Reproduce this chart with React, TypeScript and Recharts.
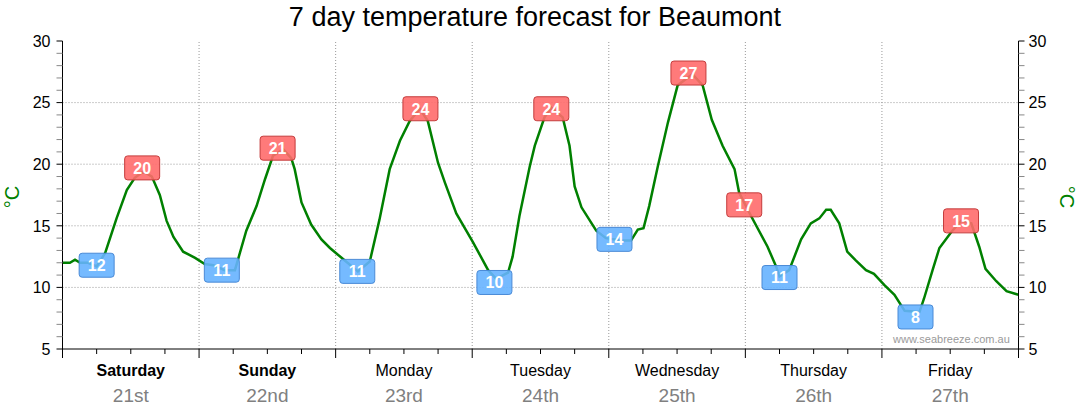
import React from 'react';
import { ComposedChart, Line, Scatter, XAxis, YAxis, ReferenceLine } from 'recharts';

// hours since midnight Saturday, and the forecast temperature at that hour
const hours = [
  0, 1.3, 2.2, 3.1, 4.5, 6, 7.1, 7.5, 9.5, 11.3, 12.7, 14.2, 15.7, 17.1, 18.3, 19.5, 21.2, 23.3,
  25, 26.5, 28.5, 30.3, 30.8, 32.3, 34.1, 35.6, 37, 38.8, 40.2, 40.8, 42, 43.7, 45.5, 47,
  49.3, 51.9, 54, 55.7, 57.5, 59.3, 61, 62.8, 64.2, 66, 67.2, 69.2, 72.1,
  74.8, 76.2, 78.3, 79.1, 80.3, 82.1, 83, 84.7, 85.9, 87.9, 89.1, 90, 91.2, 93.8, 95.5,
  98.2, 99.9, 101.1, 102.1, 103.1, 104.6, 106.4, 108.1, 110.7, 112.5, 114.1, 116, 118.1, 118.9,
  121, 123.9, 125.4, 126, 127.7, 129.8, 131.5, 133, 134.2, 135, 136.5, 137.9, 139.4, 141.2, 142.6,
  144.4, 146.2, 148, 150.6, 151.4, 152.9, 154.1, 156.2, 157.9, 159.7, 161.1, 162.2, 164.1, 165.9, 168,
];
const temps = [
  12.0, 12.0, 12.25, 12.0, 12.0, 11.7, 12.5, 12.8, 15.6, 17.9, 18.9, 19.4, 19.0, 17.5, 15.4, 14.1, 12.9, 12.4,
  11.9, 11.8, 11.4, 11.4, 12.2, 14.6, 16.6, 18.8, 20.7, 21.2, 20.5, 19.6, 16.9, 15.1, 13.9, 13.2,
  12.3, 11.3, 12.1, 15.5, 19.6, 21.9, 23.5, 24.5, 23.5, 20.1, 18.5, 16.0, 13.7,
  11.4, 10.7, 11.2, 12.5, 15.8, 19.8, 21.5, 23.8, 24.6, 23.8, 21.5, 18.2, 16.5, 14.6, 14.0,
  13.8, 13.8, 14.7, 14.8, 16.6, 19.8, 23.4, 26.4, 27.3, 26.4, 23.6, 21.5, 19.6, 17.7,
  15.8, 13.3, 11.7, 10.9, 11.4, 13.9, 15.2, 15.6, 16.3, 16.3, 15.2, 12.9, 12.2, 11.4, 11.1,
  10.2, 9.4, 8.1, 8.0, 9.1, 11.4, 13.2, 14.5, 15.4, 15.2, 13.3, 11.5, 10.5, 9.7, 9.4,
];

// min / max markers
const markerHours = [6, 14, 28, 37.8, 51.8, 62.9, 75.9, 85.9, 97, 110, 119.8, 126, 149.9, 157.9];
const markerTemps = [11.8, 19.7, 11.4, 21.3, 11.3, 24.5, 10.4, 24.5, 13.9, 27.4, 16.7, 10.8, 7.6, 15.4];
const markerLabels = [12, 20, 11, 21, 11, 24, 10, 24, 14, 27, 17, 11, 8, 15];
const markerKinds = ['min', 'max', 'min', 'max', 'min', 'max', 'min', 'max', 'min', 'max', 'max', 'min', 'min', 'max'];

const dayNames = ['Saturday', 'Sunday', 'Monday', 'Tuesday', 'Wednesday', 'Thursday', 'Friday'];
const dayDates = ['21st', '22nd', '23rd', '24th', '25th', '26th', '27th'];
const boldDays = ['Saturday', 'Sunday'];

const yLabels = [5, 10, 15, 20, 25, 30];
const yGrid = [10, 15, 20, 25];
const dayBreaks = [24, 48, 72, 96, 120, 144];

const lineData = hours.map((h, i) => ({ h, t: temps[i] }));
const markerData = markerHours.map((h, i) => ({ h, t: markerTemps[i], label: markerLabels[i], kind: markerKinds[i] }));

const yTicks: number[] = [];
for (let v = 5; v <= 30; v++) yTicks.push(v);
const xTicks: number[] = [];
for (let h = 0; h <= 168; h += 6) xTicks.push(h);

const FONT = '"Liberation Sans", Arial, sans-serif';

const LeftTick = (props: any) => {
  const { x, y, payload } = props;
  const major = yLabels.includes(payload.value);
  return (
    <g>
      <line x1={x - 6} x2={x} y1={y} y2={y} stroke={major ? '#000' : '#888'} />
      {major && (
        <text x={x - 12} y={y} dy="0.36em" textAnchor="end" fontSize={16} fontFamily={FONT} fill="#000">
          {payload.value}
        </text>
      )}
    </g>
  );
};

const RightTick = (props: any) => {
  const { x, y, payload } = props;
  const major = yLabels.includes(payload.value);
  return (
    <g>
      <line x1={x} x2={x + 6} y1={y} y2={y} stroke={major ? '#000' : '#888'} />
      {major && (
        <text x={x + 10} y={y} dy="0.36em" textAnchor="start" fontSize={16} fontFamily={FONT} fill="#000">
          {payload.value}
        </text>
      )}
    </g>
  );
};

const DayTick = (props: any) => {
  const { x, y, payload } = props;
  const h = payload.value;
  const isDay = h % 24 === 0;
  const isNoon = h % 24 === 12;
  const day = Math.floor(h / 24);
  return (
    <g>
      <line x1={x} x2={x} y1={y} y2={y + (isDay ? 9 : 5)} stroke="#000" />
      {isNoon && (
        <>
          <text x={x} y={y + 27} textAnchor="middle" fontSize={16} fontFamily={FONT}
            fontWeight={boldDays.includes(dayNames[day]) ? 'bold' : 'normal'} fill="#000">
            {dayNames[day]}
          </text>
          <text x={x} y={y + 53} textAnchor="middle" fontSize={19} fontFamily={FONT} fill="#808080">
            {dayDates[day]}
          </text>
        </>
      )}
    </g>
  );
};

const MarkerBox = (props: any) => {
  const { cx, cy, payload } = props;
  const isMax = payload.kind === 'max';
  return (
    <g>
      <rect x={cx - 17.5} y={cy - 12} width={35} height={24} rx={3} ry={3}
        fill={isMax ? '#ff6b6b' : '#66b2ff'} fillOpacity={0.9}
        stroke={isMax ? '#c43c3c' : '#4a8ad6'} strokeWidth={1} />
      <text x={cx} y={cy} dy="0.36em" textAnchor="middle" fontSize={16} fontWeight="bold" fontFamily={FONT} fill="#fff">
        {payload.label}
      </text>
    </g>
  );
};

const unitLabel = (angle: number, dx: number) => (props: any) => {
  const { viewBox } = props;
  const cx = viewBox.x + dx;
  const cy = viewBox.y + viewBox.height / 2 + 2;
  return (
    <text x={cx} y={cy} transform={`rotate(${angle} ${cx} ${cy})`} textAnchor="middle" dy="0.36em"
      fontSize={20} fontFamily={FONT} fill="#008000">
      °C
    </text>
  );
};

export default function App() {
  return (
    <div style={{ position: 'absolute', left: 0, top: 0, width: 1080, height: 414, background: '#fff' }}>
      <div style={{ position: 'absolute', left: 0, top: 2, width: 1070, textAlign: 'center', fontFamily: FONT, fontSize: 27, color: '#000' }}>
        7 day temperature forecast for Beaumont
      </div>
      <ComposedChart width={1080} height={414} data={lineData} margin={{ top: 41, right: 0, bottom: 0, left: 0 }}>
        {yGrid.map(v => (
          <ReferenceLine key={'y' + v} y={v} yAxisId="left" stroke="#999" strokeDasharray="1 2" />
        ))}
        {dayBreaks.map(h => (
          <ReferenceLine key={'x' + h} x={h} yAxisId="left" stroke="#999" strokeDasharray="1 2" />
        ))}
        <XAxis dataKey="h" type="number" domain={[0, 168]} ticks={xTicks} interval={0} height={65}
          tickLine={false} tickSize={0} tickMargin={0} tick={<DayTick />} axisLine={{ stroke: '#000' }} />
        <YAxis yAxisId="left" orientation="left" type="number" domain={[5, 30]} ticks={yTicks} interval={0}
          width={62.5} tickLine={false} tickSize={0} tickMargin={0} tick={<LeftTick />} axisLine={{ stroke: '#000' }}
          label={{ content: unitLabel(-90, 12) }} />
        <YAxis yAxisId="right" orientation="right" type="number" domain={[5, 30]} ticks={yTicks} interval={0}
          width={61.5} tickLine={false} tickSize={0} tickMargin={0} tick={<RightTick />} axisLine={{ stroke: '#000' }}
          allowDataOverflow label={{ content: unitLabel(90, 49) }} />
        <Line yAxisId="right" type="linear" dataKey="t" stroke="none" strokeWidth={0} dot={false}
          activeDot={false} isAnimationActive={false} />
        <Line yAxisId="left" type="linear" dataKey="t" stroke="#008000" strokeWidth={2.5} dot={false}
          activeDot={false} isAnimationActive={false} />
        <Scatter yAxisId="left" data={markerData} dataKey="t" shape={<MarkerBox />} isAnimationActive={false} />
      </ComposedChart>
      <div style={{ position: 'absolute', left: 893, top: 333, fontFamily: FONT, fontSize: 11, color: '#9a9a9a' }}>
        www.seabreeze.com.au
      </div>
    </div>
  );
}
